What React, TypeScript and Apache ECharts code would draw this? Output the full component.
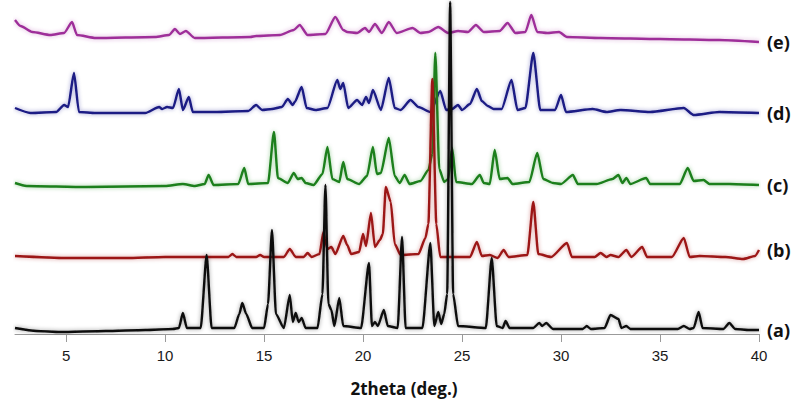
import React, { useEffect, useRef } from "react";
import * as echarts from "echarts";

// 2theta (deg.) vs stacked intensity (arbitrary units, each pattern offset as in the figure)
const seriesNames = ["(a)", "(b)", "(c)", "(d)", "(e)"];
const seriesColors = ["#0d0d0d", "#9c1515", "#1b7f1b", "#1a1a84", "#9e2d99"];
const xTicks = [5, 10, 15, 20, 25, 30, 35, 40];
const xTitle = "2theta (deg.)";

const patternA: [number, number][] = [
  [2.42, 6], [3.5, 3], [4.7, 2], [7, 3], [9, 4], [10.4, 5], [10.7, 6], [10.9, 21], [11.1, 6],
  [11.8, 6], [12.1, 79], [12.35, 6], [13.5, 6], [13.75, 20], [13.9, 31], [14.1, 20], [14.4, 6],
  [15.0, 6], [15.2, 30], [15.4, 104], [15.6, 20], [16.0, 6], [16.3, 39], [16.45, 12], [16.6, 21],
  [16.75, 12], [16.9, 16], [17.1, 6], [17.7, 6], [17.95, 40], [18.1, 149], [18.25, 30], [18.4, 24],
  [18.55, 8], [18.8, 36], [19.0, 8], [19.9, 6], [20.3, 71], [20.45, 8], [20.6, 12], [20.75, 8],
  [21.05, 24], [21.25, 8], [21.75, 6], [21.97, 97], [22.15, 6], [23.0, 6], [23.4, 91], [23.6, 8],
  [23.8, 22], [23.95, 10], [24.1, 20], [24.25, 40], [24.4, 332], [24.55, 40], [24.8, 8], [26.2, 6],
  [26.5, 76], [26.75, 8], [27.05, 6], [27.2, 13], [27.4, 6], [28.6, 6], [28.9, 11], [29.05, 8],
  [29.25, 11], [29.6, 5], [31.1, 5], [31.3, 8], [31.5, 5], [32.2, 6], [32.5, 19], [32.9, 15],
  [33.05, 6], [33.3, 8], [33.5, 5], [35.9, 5], [36.2, 8], [36.5, 5], [36.7, 6], [36.95, 22],
  [37.15, 6], [38.2, 5], [38.5, 11], [38.8, 5], [39.5, 4], [40, 4],
];

const patternB: [number, number][] = [
  [2.42, 78], [5, 76], [8, 76], [10, 77], [13.2, 77], [13.4, 80], [13.6, 77], [14.6, 77], [14.8, 79],
  [15.0, 77], [16.0, 77], [16.3, 85], [16.6, 77], [17.0, 77], [17.2, 81], [17.4, 77], [17.8, 80],
  [18.0, 102], [18.2, 85], [18.4, 87], [18.6, 80], [19.0, 98], [19.2, 89], [19.4, 80], [19.8, 82],
  [20.0, 100], [20.15, 88], [20.4, 121], [20.6, 87], [20.85, 94], [21.0, 100], [21.15, 147],
  [21.4, 132], [21.6, 90], [21.9, 79], [22.8, 80], [23.15, 96], [23.3, 110], [23.5, 255], [23.7, 110],
  [23.9, 77], [25.4, 77], [25.75, 92], [26.0, 78], [26.4, 79], [26.8, 76], [27.1, 84], [27.35, 77],
  [28.3, 79], [28.6, 132], [28.85, 80], [29.5, 77], [30.3, 91], [30.55, 77], [31.7, 77], [32.0, 81],
  [32.3, 77], [32.5, 79], [32.9, 77], [33.3, 84], [33.55, 77], [34.1, 87], [34.35, 77], [35.6, 77],
  [36.2, 96], [36.5, 77], [37, 78], [38.3, 77], [39.2, 75], [39.8, 78], [40, 84],
];

const patternC: [number, number][] = [
  [2.42, 151], [3, 148], [6, 147], [10.0, 148], [10.9, 150], [11.5, 148], [12.0, 150], [12.2, 159],
  [12.45, 149], [13.7, 150], [14.0, 166], [14.2, 150], [15.2, 151], [15.5, 202], [15.7, 156],
  [16.2, 151], [16.5, 161], [16.7, 155], [16.9, 156], [17.1, 151], [17.5, 149], [17.95, 160],
  [18.2, 187], [18.45, 155], [18.8, 152], [19.0, 172], [19.2, 155], [19.8, 150], [20.2, 158],
  [20.5, 187], [20.7, 160], [20.9, 161], [21.3, 196], [21.6, 158], [21.85, 151], [22.1, 159],
  [22.35, 150], [22.9, 153], [23.3, 164], [23.5, 180], [23.65, 281], [23.85, 165], [24.1, 152],
  [24.3, 155], [24.5, 186], [24.7, 152], [25.5, 150], [25.9, 159], [26.1, 151], [26.4, 150],
  [26.65, 184], [26.9, 155], [27.3, 156], [27.55, 150], [28.4, 152], [28.8, 181], [29.1, 155],
  [29.6, 151], [30.0, 150], [30.6, 159], [30.85, 150], [31.8, 150], [32.6, 155], [32.9, 159],
  [33.1, 151], [33.3, 156], [33.5, 150], [34.3, 156], [34.5, 150], [36.0, 150], [36.4, 166],
  [36.7, 153], [37.2, 154], [37.5, 150], [38.5, 150], [40, 149],
];

const patternD: [number, number][] = [
  [2.42, 226], [3.2, 221], [4.5, 222], [4.9, 229], [5.1, 227], [5.4, 261], [5.65, 222], [6.5, 221],
  [9.0, 221], [9.7, 227], [9.85, 225], [10.1, 227], [10.4, 226], [10.7, 245], [10.9, 224], [11.2, 237],
  [11.4, 222], [12.5, 222], [14.2, 223], [14.6, 229], [14.9, 224], [15.4, 225], [15.9, 227],
  [16.2, 235], [16.45, 229], [16.55, 232], [16.9, 247], [17.15, 226], [17.6, 224], [18.2, 226],
  [18.7, 254], [18.85, 245], [19.0, 251], [19.25, 226], [19.7, 234], [19.95, 229], [20.15, 237],
  [20.3, 231], [20.5, 244], [20.9, 224], [21.3, 256], [21.6, 226], [21.9, 224], [22.4, 234],
  [22.8, 227], [23.4, 222], [23.9, 243], [24.2, 224], [24.5, 225], [24.8, 229], [25.0, 224],
  [25.4, 230], [25.75, 245], [26.0, 233], [26.3, 228], [26.6, 225], [27.0, 225], [27.5, 254],
  [27.8, 224], [28.2, 226], [28.6, 281], [28.95, 224], [29.7, 224], [30.0, 239], [30.25, 222],
  [31.6, 225], [32.3, 222], [33.0, 224], [34.5, 222], [36.2, 226], [36.7, 219], [38, 222], [40, 221],
];

const patternE: [number, number][] = [
  [2.42, 314], [2.7, 308], [3.3, 302], [4.2, 299], [4.9, 301], [5.3, 312], [5.55, 299], [6.5, 296],
  [9.5, 297], [10.2, 299], [10.5, 305], [10.75, 300], [11.05, 303], [11.5, 296], [14.3, 297],
  [14.6, 298], [15.8, 299], [16.5, 304], [16.8, 309], [17.2, 299], [18.1, 300], [18.6, 317],
  [19.0, 304], [19.2, 302], [19.7, 301], [20.1, 306], [20.3, 302], [20.6, 310], [20.95, 301],
  [21.3, 312], [21.7, 301], [22.5, 306], [22.9, 301], [23.3, 302], [23.8, 307], [24.3, 301],
  [24.8, 303], [25.3, 302], [25.7, 309], [26.1, 302], [26.9, 303], [27.3, 311], [27.7, 301],
  [28.2, 302], [28.5, 319], [28.8, 302], [29.3, 301], [29.9, 302], [30.3, 297], [32, 296],
  [35, 295], [38, 294], [40, 292],
];

const patterns = [patternA, patternB, patternC, patternD, patternE];

export default function App() {
  const ref = useRef<HTMLDivElement>(null);
  useEffect(() => {
    if (!ref.current) return;
    const chart = echarts.init(ref.current, undefined, { renderer: "svg" });
    const labelFont = "'Open Sans', 'DejaVu Sans', sans-serif";
    const series: any[] = [];
    for (let i = patterns.length - 1; i >= 0; i--) {
      series.push({
        name: seriesNames[i],
        type: "line",
        data: patterns[i],
        showSymbol: false,
        symbol: "none",
        smooth: 0.2,
        smoothMonotone: "x",
        lineStyle: {
          color: seriesColors[i],
          width: 2.4,
          shadowColor: seriesColors[i] + "66",
          shadowBlur: 4,
        },
        z: 10 - i,
        endLabel: {
          show: true,
          formatter: seriesNames[i],
          color: "#111",
          fontFamily: labelFont,
          fontWeight: "bold",
          fontSize: 18,
          distance: 8,
        },
      });
    }
    chart.setOption({
      animation: false,
      backgroundColor: "#ffffff",
      grid: { left: 15, right: 36, top: 0, bottom: 72, containLabel: false },
      xAxis: {
        type: "value",
        min: 2.42,
        max: 40,
        axisLine: { show: true, lineStyle: { color: "#9a9a9a", width: 1 } },
        axisTick: {
          show: true,
          inside: false,
          length: 8,
          lineStyle: { color: "#9a9a9a" },
          customValues: xTicks,
        },
        axisLabel: {
          color: "#1a1a1a",
          fontSize: 15,
          fontFamily: "'Liberation Sans Narrow', 'Liberation Sans', Arial, sans-serif",
          margin: 14,
          customValues: xTicks,
        },
        splitLine: { show: false },
        name: xTitle,
        nameLocation: "middle",
        nameGap: 46,
        nameTextStyle: {
          color: "#111",
          fontFamily: labelFont,
          fontWeight: "bold",
          fontSize: 17,
          padding: [0, 0, 0, 34],
        },
      },
      yAxis: {
        type: "value",
        min: 0,
        max: 334,
        show: false,
      },
      series,
    });
    return () => chart.dispose();
  }, []);
  return (
    <div
      ref={ref}
      style={{ position: "fixed", left: 0, top: 0, width: 795, height: 406, background: "#fff" }}
    />
  );
}
